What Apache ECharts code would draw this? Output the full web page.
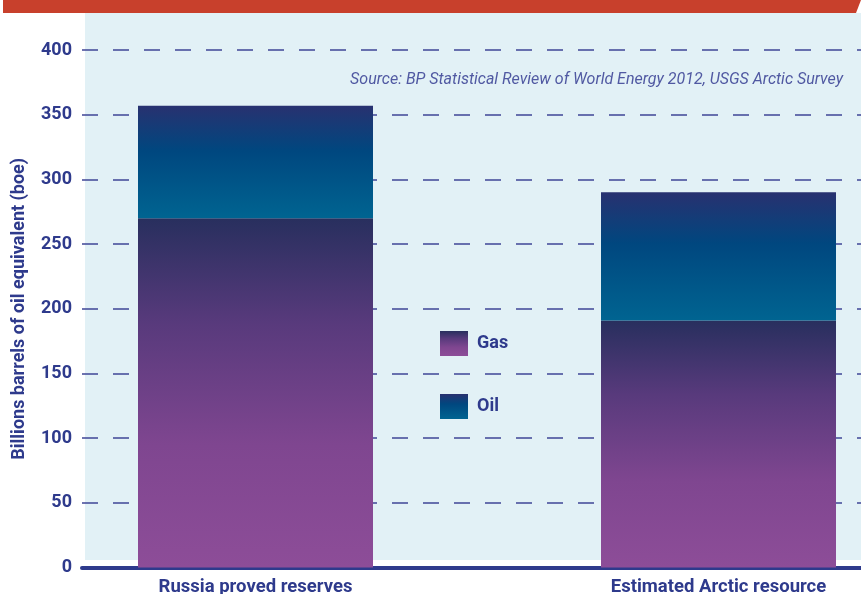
<!DOCTYPE html>
<html>
<head>
<meta charset="utf-8">
<script src="https://cdn.jsdelivr.net/npm/echarts@6/dist/echarts.min.js"></script>
<style>
html,body{margin:0;padding:0;background:#fff;}
#chart{width:861px;height:594px;}
</style>
</head>
<body>
<div id="chart"></div>
<script>
const categories = ['Russia proved reserves', 'Estimated Arctic resource'];
const gasValues = [270, 191];
const oilValues = [87, 99];
const yTicks = { min: 0, max: 400, interval: 50 };
const yTitle = 'Billions barrels of oil equivalent (boe)';
const sourceText = 'Source: BP Statistical Review of World Energy 2012, USGS Arctic Survey';

const FONT = 'Roboto, "Liberation Sans", sans-serif';
const INK = '#2e3a8c';

const gasGrad = new echarts.graphic.LinearGradient(0, 0, 0, 1, [
  { offset: 0, color: '#282f5e' },
  { offset: 0.3, color: '#583a7c' },
  { offset: 0.65, color: '#7f4690' },
  { offset: 1, color: '#8d4d98' }
]);
const oilGrad = new echarts.graphic.LinearGradient(0, 0, 0, 1, [
  { offset: 0, color: '#283170' },
  { offset: 0.4, color: '#00477f' },
  { offset: 1, color: '#006491' }
]);

const chart = echarts.init(document.getElementById('chart'), null, { renderer: 'canvas' });
chart.setOption({
  animation: false,
  backgroundColor: '#ffffff',
  graphic: [
    { type: 'rect', z: -10, silent: true, shape: { x: 85, y: 13, width: 776, height: 547 }, style: { fill: '#e2f1f6' } },
    { type: 'polygon', z: -9, silent: true, shape: { points: [[3, 0], [861, 0], [856, 13], [3, 13]] }, style: { fill: '#c8402c' } },
    { type: 'text', z: 10, silent: true, x: 843, y: 80, style: { text: sourceText, fill: '#5059a2', font: 'italic 16px ' + FONT, align: 'right', verticalAlign: 'middle' } }
  ],
  grid: [
    { left: 82, width: 779, top: 50, bottom: 26.5, outerBoundsMode: 'none', containLabel: false },
    { left: 24, width: 926, top: 50, bottom: 26.5, outerBoundsMode: 'none', containLabel: false }
  ],
  legend: {
    orient: 'vertical', left: 440, top: 331, itemWidth: 28, itemHeight: 25, itemGap: 38, padding: 0, icon: 'rect',
    textStyle: { color: INK, fontWeight: 'bold', fontSize: 18, fontFamily: FONT, padding: [4, 0, 0, 4] },
    data: ['Gas', 'Oil']
  },
  xAxis: [
    { type: 'value', gridIndex: 0, min: 0, max: 1, axisLabel: { show: false }, axisTick: { show: false }, splitLine: { show: false },
      axisLine: { show: true, lineStyle: { color: INK, width: 4 } } },
    { type: 'category', gridIndex: 1, data: categories, axisLine: { show: false }, axisTick: { show: false },
      axisLabel: { color: INK, fontWeight: 'bold', fontSize: 18.5, fontFamily: FONT, margin: 10 } }
  ],
  yAxis: [
    { type: 'value', gridIndex: 0, min: yTicks.min, max: yTicks.max, interval: yTicks.interval,
      name: yTitle, nameLocation: 'middle', nameRotate: 90, nameGap: 54,
      nameTextStyle: { color: INK, fontWeight: 'bold', fontSize: 18, fontFamily: FONT },
      axisLine: { show: false }, axisTick: { show: false },
      axisLabel: { color: INK, fontWeight: 'bold', fontSize: 18, fontFamily: FONT, margin: 10 },
      splitLine: { show: true, lineStyle: { color: '#3f4697', width: 1.6, type: [16, 15], dashOffset: 0 } } },
    { type: 'value', gridIndex: 1, min: yTicks.min, max: yTicks.max, interval: yTicks.interval, show: false }
  ],
  series: [
    { name: 'Gas', type: 'bar', xAxisIndex: 1, yAxisIndex: 1, stack: 'total', barWidth: 235, data: gasValues, itemStyle: { color: gasGrad } },
    { name: 'Oil', type: 'bar', xAxisIndex: 1, yAxisIndex: 1, stack: 'total', barWidth: 235, data: oilValues, itemStyle: { color: oilGrad } }
  ]
});
</script>
</body>
</html>
